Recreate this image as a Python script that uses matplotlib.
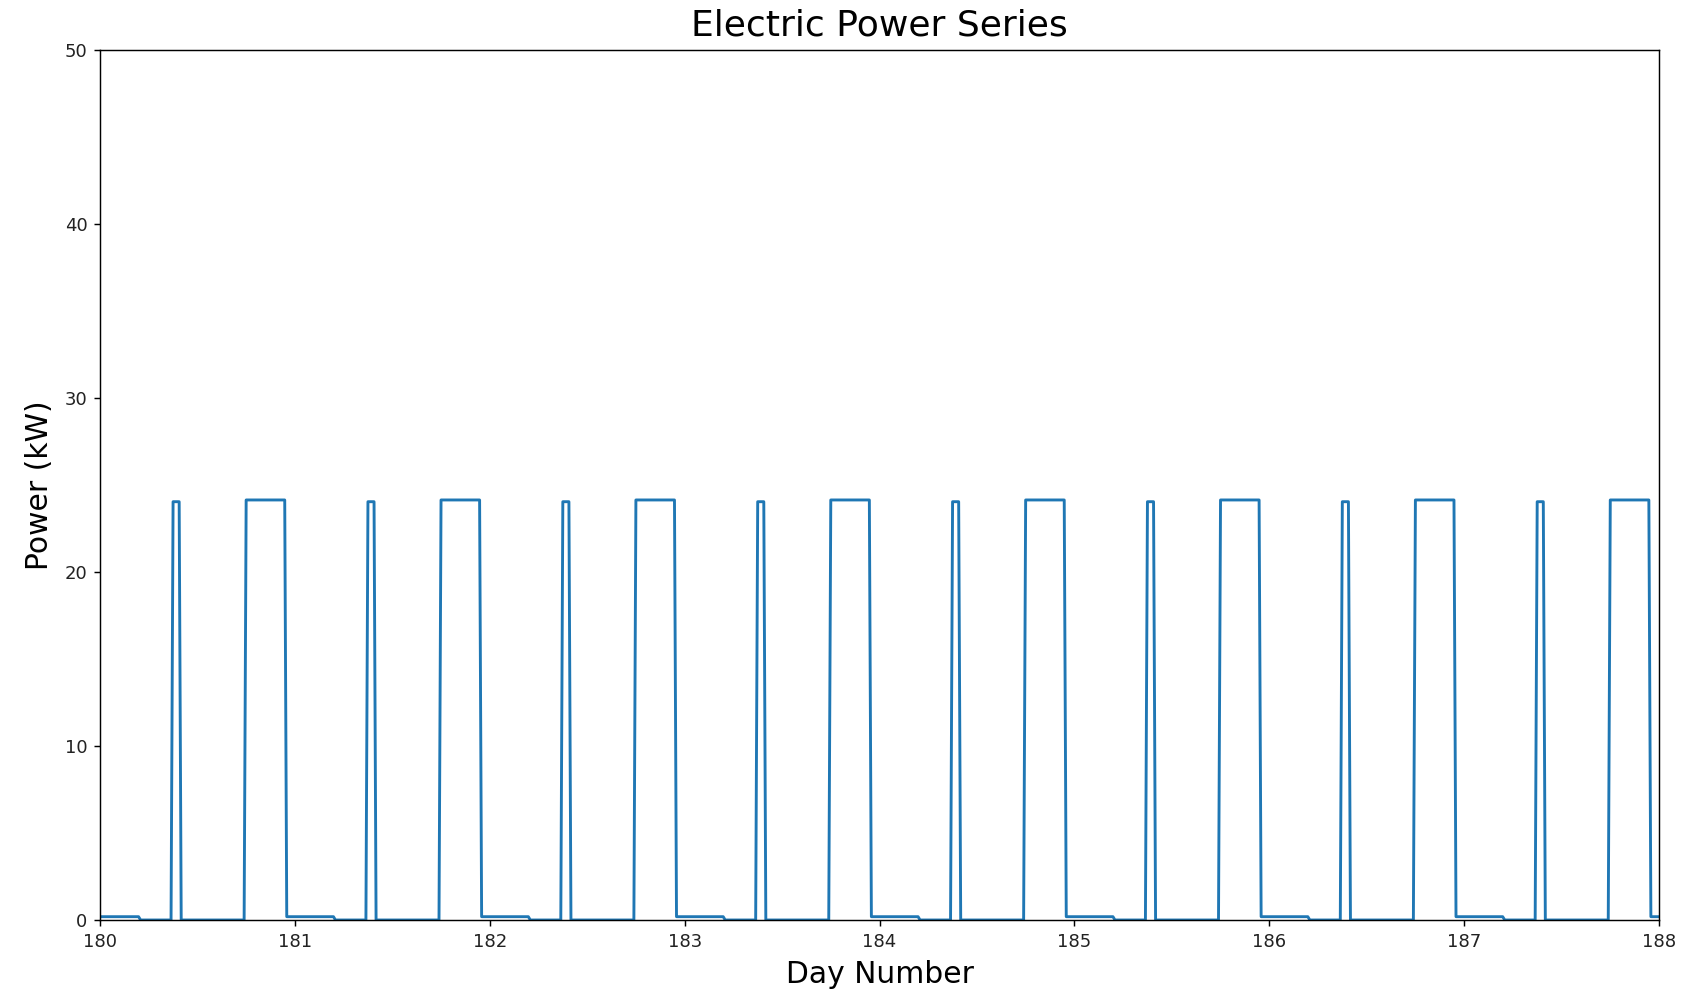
import numpy as np
import matplotlib
matplotlib.use("Agg")
import matplotlib.pyplot as plt

# Days shown and the repeating daily load profile
day_numbers = [180, 181, 182, 183, 184, 185, 186, 187]
profile_hours = [0.0, 4.75, 5.0, 8.75, 9.0, 9.75, 10.0, 17.75, 18.0, 22.75, 23.0]
profile_kw = [0.19, 0.19, 0.0, 0.0, 24.04, 24.04, 0.0, 0.0, 24.14, 24.14, 0.19]
end_day = 188.0
end_kw = 0.19

# Stitch the daily profile into one time series (day number, kW)
t = []
p = []
for d in day_numbers:
    for h, v in zip(profile_hours, profile_kw):
        t.append(d + h / 24.0)
        p.append(v)
t.append(end_day)
p.append(end_kw)
t = np.array(t)
p = np.array(p)

fig = plt.figure(figsize=(1696 / 130, 992 / 130), dpi=130)
ax = fig.add_axes([100 / 1696, 1 - 920 / 992, 1559 / 1696, 870 / 992])
ax.plot(t, p, color='#1f77b4', linewidth=1.6)
ax.set_xlim(180, 188)
ax.set_ylim(0, 50)
ax.set_title('Electric Power Series', fontsize=20, pad=8)
ax.set_xlabel('Day Number', fontsize=16.5, labelpad=5)
ax.set_ylabel('Power (kW)', fontsize=16.5, labelpad=6)
ax.tick_params(labelsize=10, labelcolor='#222222')

fig.savefig('out.png', dpi=130)
